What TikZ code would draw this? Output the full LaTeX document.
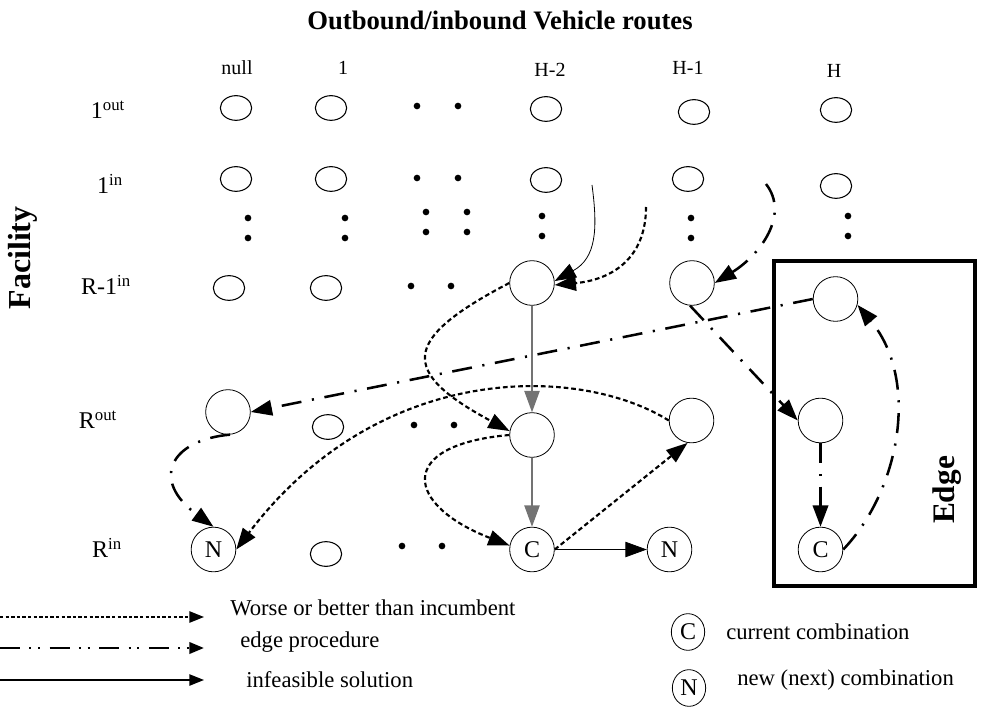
\documentclass[tikz,border=0pt]{standalone}
\usepackage{fontspec}
\setmainfont{Liberation Serif}
\usetikzlibrary{arrows.meta,shapes.geometric}
\begin{document}
\begin{tikzpicture}[x=0.75pt,y=-0.75pt,
  sm/.style={draw,ellipse,minimum width=23.5pt,minimum height=18.5pt,inner sep=0pt,line width=0.8pt},
  bg/.style={draw,circle,minimum size=33.5pt,inner sep=0pt,line width=0.6pt,font=\fontsize{18}{18}\selectfont},
  lg/.style={draw,ellipse,minimum width=25pt,minimum height=27.5pt,inner sep=0pt,line width=0.6pt,font=\fontsize{18}{18}\selectfont},
  dt/.style={circle,fill,inner sep=0pt,minimum size=5pt},
  tip/.style={-{Triangle[length=16pt,width=11.5pt]}},
  stip/.style={-{Triangle[length=11pt,width=8.5pt]}},
  wb/.style={tip,line width=1.6pt,dash pattern=on 3.5pt off 2.2pt},
  ep/.style={tip,line width=1.9pt,dash pattern=on 15pt off 8pt on 1.6pt off 8pt},
  inf/.style={tip,line width=0.6pt},
  grl/.style={tip,line width=0.9pt,draw=black!55,fill=black},
  collab/.style={font=\fontsize{15}{15}\selectfont},
  rowlab/.style={font=\fontsize{18}{18}\selectfont},
  leg/.style={font=\fontsize{17}{17}\selectfont,anchor=west,inner sep=0pt}
]
\useasboundingbox (0,0) rectangle (991,716);

% title and axes
\node[font=\bfseries\fontsize{20}{20}\selectfont] (title) at (500,20) {Outbound/inbound Vehicle routes};
\node[font=\bfseries\fontsize{24}{24}\selectfont,rotate=90] (fac) at (23,258) {Facility};

% column labels
\node[collab] (cnull) at (237,68) {null};
\node[collab] (cone) at (343,68) {1};
\node[collab] (chm2) at (550,70) {H-2};
\node[collab] (chm1) at (688,68) {H-1};
\node[collab] (ch) at (834,71) {H};

% row labels
\node[rowlab] (r1o) at (108,110) {1\textsuperscript{out}};
\node[rowlab] (r1i) at (110,184) {1\textsuperscript{in}};
\node[rowlab] (rr1) at (106,285) {R-1\textsuperscript{in}};
\node[rowlab] (rro) at (98,420) {R\textsuperscript{out}};
\node[rowlab] (rri) at (107,548) {R\textsuperscript{in}};

% row 1
\node[sm] (a1) at (236,108) {};
\node[sm] (a2) at (331,108) {};
\node[sm] (a3) at (546,109) {};
\node[sm] (a4) at (694,112) {};
\node[sm] (a5) at (836,110) {};
% row 2
\node[sm] (b1) at (236,179) {};
\node[sm] (b2) at (331,179) {};
\node[sm] (b3) at (546,180) {};
\node[sm] (b4) at (688,179) {};
\node[sm] (b5) at (836,186) {};
% dots
\node[dt] (d1) at (417,106) {};
\node[dt] (d2) at (458,106) {};
\node[dt] (d3) at (417,178) {};
\node[dt] (d4) at (458,178) {};
\node[dt] (d5) at (248,218) {};
\node[dt] (d6) at (248,238) {};
\node[dt] (d7) at (345,218) {};
\node[dt] (d8) at (345,238) {};
\node[dt] (d9) at (426,212) {};
\node[dt] (d10) at (426,232) {};
\node[dt] (d11) at (467,212) {};
\node[dt] (d12) at (467,232) {};
\node[dt] (d13) at (542,216) {};
\node[dt] (d14) at (542,236) {};
\node[dt] (d15) at (691,218) {};
\node[dt] (d16) at (691,238) {};
\node[dt] (d17) at (848,216) {};
\node[dt] (d18) at (848,236) {};
% row 3
\node[sm] (c1) at (229,288) {};
\node[sm] (c2) at (326,288) {};
\node[dt] (d19) at (411,286) {};
\node[dt] (d20) at (451,286) {};
\node[bg] (Ht) at (532,283) {};
\node[bg] (Hm) at (692,283) {};
\node[bg] (Bt) at (835.5,299) {};
% row R out
\node[bg] (Ro) at (228,412) {};
\node[sm] (e2) at (328,427) {};
\node[dt] (d21) at (414,425) {};
\node[dt] (d22) at (454,425) {};
\node[bg] (Hmid) at (532,435) {};
\node[bg] (Rm) at (691.5,420.5) {};
\node[bg] (Bm) at (820.5,420.5) {};
% row R in
\node[bg] (Nl) at (213.5,549.5) {N};
\node[sm] (f2) at (326,554) {};
\node[dt] (d23) at (402,546) {};
\node[dt] (d24) at (442,546) {};
\node[bg] (Hc) at (532,549.5) {C};
\node[bg] (Nr) at (669.5,549.5) {N};
\node[bg] (Bc) at (820.5,549.5) {C};

% edge box
\node[draw,line width=2.4pt,minimum width=150.75pt,minimum height=243.75pt,inner sep=0pt] (box) at (874.5,423.5) {};
\node[font=\bfseries\fontsize{23.5}{23.5}\selectfont,rotate=90] (edge) at (947,490) {Edge};

% free starting points
\coordinate (s1) at (592,185);
\coordinate (s2) at (646,207);
\coordinate (s3) at (766,184);

% infeasible (solid)
\draw[inf] (s1) .. controls (598,230) and (596,258) .. (Ht.5);
\draw[grl] (Ht.south) -- (Hmid.north);
\draw[grl] (Hmid.south) -- (Hc.north);
\draw[inf] (Hc.east) -- (Nr.west);

% worse or better (dotted)
\draw[wb] (s2) .. controls (646,260) and (610,280) .. (Ht.-5);
\draw[wb] (Ht.west) .. controls (400,340) and (400,372) .. (Hmid.170);
\draw[wb] (Hmid.west) .. controls (395,445) and (405,505) .. (Hc.170);
\draw[wb] (Rm.west) .. controls (580,365) and (380,360) .. (Nl.east);
\draw[wb] (Hc.east) -- (Rm.-100);

% edge procedure (dash dot)
\draw[ep] (s3) .. controls (790,215) and (760,255) .. (Hm.east);
\draw[ep] (Bt.west) -- (Ro.east);
\draw[ep] (Hm.-95) -- (Bm.west);
\draw[ep] (Bm.south) -- (Bc.north);
\draw[ep] (Bc.east) .. controls (900,490) and (920,380) .. (Bt.-15);
\draw[ep] (Ro.-85) .. controls (170,440) and (150,480) .. (Nl.north);

% legend
\coordinate (l1a) at (0,617);
\coordinate (l1b) at (204,617);
\coordinate (l2a) at (0,648);
\coordinate (l2b) at (204,648);
\coordinate (l3a) at (0,680);
\coordinate (l3b) at (204,680);
\draw[stip,line width=1.3pt,dash pattern=on 2.6pt off 1.6pt] (l1a) -- (l1b);
\draw[stip,line width=2pt,dash pattern=on 15pt off 7pt on 1.6pt off 5pt on 1.6pt off 7pt] (l2a) -- (l2b);
\draw[stip,line width=1.1pt] (l3a) -- (l3b);
\node[leg] (t1) at (230,608) {Worse or better than incumbent};
\node[leg] (t2) at (240,642) {edge procedure};
\node[leg] (t3) at (246,680) {infeasible solution};
\node[lg] (lc) at (688,632) {C};
\node[lg] (ln) at (689,688) {N};
\node[leg] (t4) at (726,632) {current combination};
\node[leg] (t5) at (737,680) {new (next) combination};
\end{tikzpicture}
\end{document}
